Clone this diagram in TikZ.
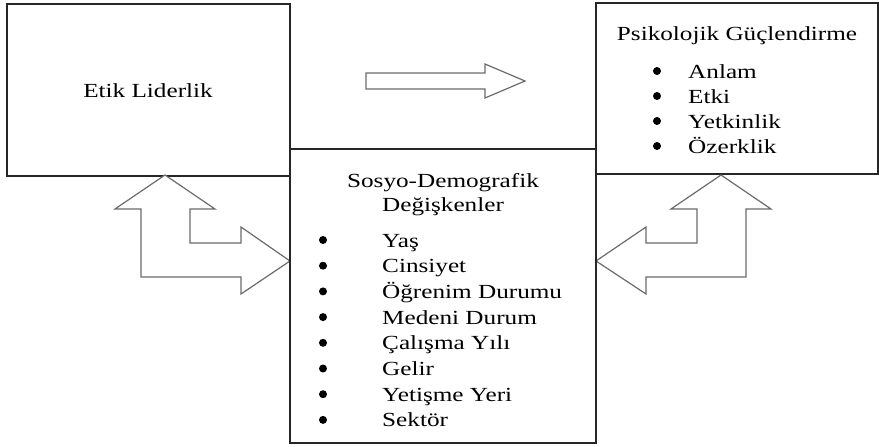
\documentclass[tikz,border=0pt]{standalone}
\usepackage{fontspec}
\setmainfont{Liberation Serif}
\usepackage{graphicx}
% text set a little wider than the font's natural width
\newcommand{\wide}[1]{\scalebox{1.26}[1]{#1}}
\begin{document}
\begin{tikzpicture}[x=1pt,y=-1pt,
  box/.style={draw=black!85,line width=1.3pt,fill=white,inner sep=0pt,rectangle},
  lbl/.style={inner sep=0pt,font=\fontsize{20}{25}\selectfont},
  blockarrow/.style={draw=black!58,line width=1.2pt,fill=white,line join=miter},
  dot/.style={circle,fill=black,inner sep=0pt,minimum size=8pt}]
\useasboundingbox (0,0) rectangle (879,447);

% outer boxes
\node[box,minimum width=283pt,minimum height=172pt] (etik) at (148.5,90) {};
\node[box,minimum width=282pt,minimum height=171pt] (psi) at (737,88.5) {};

% straight block arrow between the upper boxes
\draw[blockarrow] (366,73) -- (485,73) -- (485,64) -- (525,81) -- (485,98)
  -- (485,89) -- (366,89) -- cycle;

% bent double arrow on the left
\draw[blockarrow] (165,175) -- (215,209) -- (190,209) -- (190,243) -- (241,243)
  -- (241,227) -- (290,261) -- (241,294) -- (241,277) -- (141,277)
  -- (141,209) -- (115,209) -- cycle;

% bent double arrow on the right
\draw[blockarrow] (721,175) -- (771,209) -- (746,209) -- (746,277) -- (646,277)
  -- (646,294) -- (596,261) -- (646,227) -- (646,243) -- (697,243)
  -- (697,209) -- (671,209) -- cycle;

% central box
\node[box,minimum width=306pt,minimum height=294pt] (sosyo) at (443,296) {};

% texts
\node[lbl,anchor=base] (etiktxt) at (148,97) {\wide{Etik Liderlik}};
\node[lbl,anchor=base] (psitxt) at (737,40) {\wide{Psikolojik Güçlendirme}};

\foreach \t [count=\i] in {Anlam,Etki,Yetkinlik,Özerklik} {
  \node[dot] (pd\i) at (657,{78+25*(\i-1)-7}) {};
  \node[lbl,anchor=base west] (pi\i) at (688,{78+25*(\i-1)}) {\wide{\t}};
}

\node[lbl,anchor=base] (sosyo1) at (443,187) {\wide{Sosyo-Demografik}};
\node[lbl,anchor=base] (sosyo2) at (443,211.5) {\wide{Değişkenler}};

\foreach \t [count=\i] in {Yaş,Cinsiyet,Öğrenim Durumu,Medeni Durum,Çalışma Yılı,Gelir,Yetişme Yeri,Sektör} {
  \node[dot] (sd\i) at (323,{247+25.7*(\i-1)-7}) {};
  \node[lbl,anchor=base west] (si\i) at (382,{247+25.7*(\i-1)}) {\wide{\t}};
}
\end{tikzpicture}
\end{document}
